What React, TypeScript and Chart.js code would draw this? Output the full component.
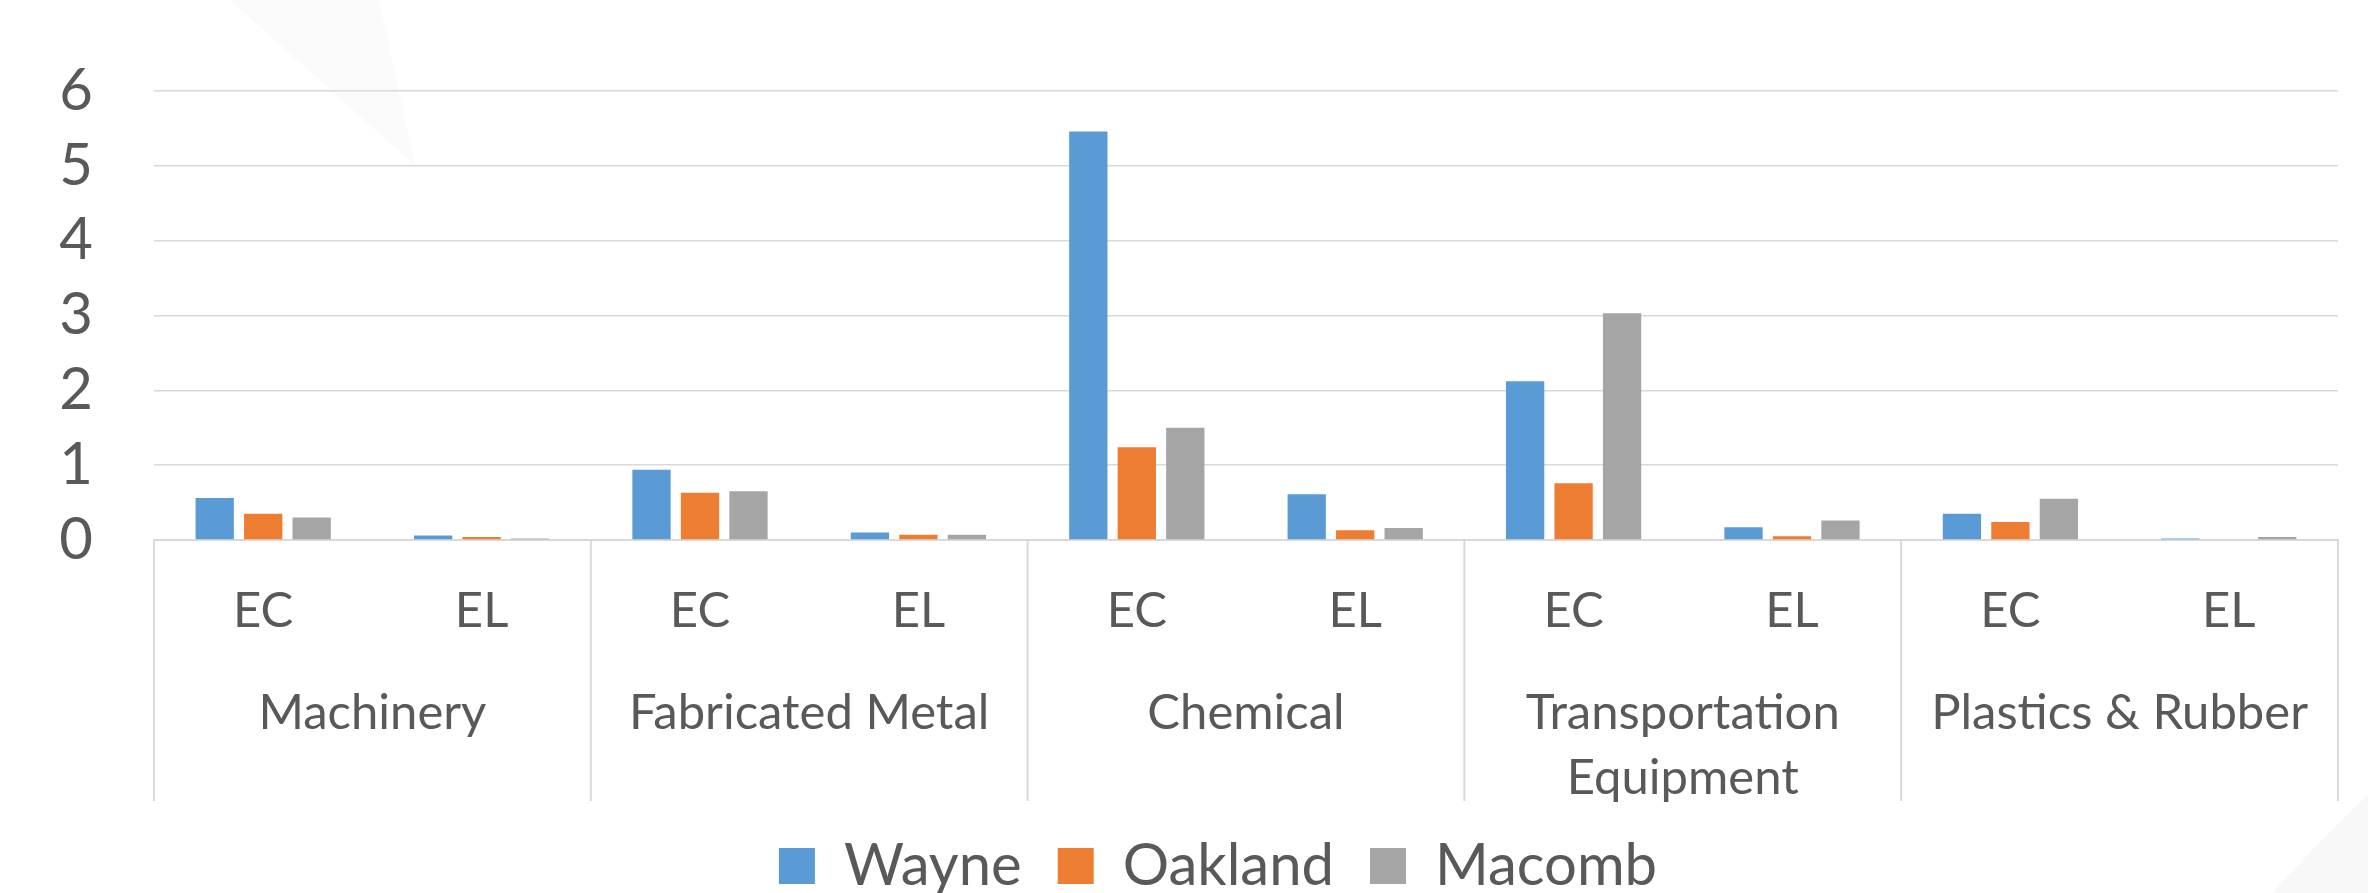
import React, { useEffect, useRef } from "react";
import { Chart, registerables } from "chart.js";

Chart.register(...registerables);

// ---- data ----
const tickLabels = ["EC", "EL", "EC", "EL", "EC", "EL", "EC", "EL", "EC", "EL"];
const groupLabels: (string | string[])[] = [
  "Machinery",
  "Fabricated Metal",
  "Chemical",
  ["Transportation", "Equipment"],
  "Plastics & Rubber",
];
const seriesNames = ["Wayne", "Oakland", "Macomb"];
const wayne = [0.56, 0.06, 0.94, 0.1, 5.46, 0.61, 2.12, 0.17, 0.35, 0.02];
const oakland = [0.35, 0.04, 0.63, 0.07, 1.24, 0.13, 0.76, 0.05, 0.24, 0.01];
const macomb = [0.3, 0.02, 0.65, 0.07, 1.5, 0.16, 3.03, 0.26, 0.55, 0.04];
const yMin = 0;
const yMax = 6;
const yStep = 1;

// ---- style ----
const FONT = "Lato";
const TEXT = "#595959";
const GRID = "#D9D9D9";
const COLORS = ["#5B9BD5", "#ED7D31", "#A5A5A5"];

const backgroundPlugin = {
  id: "bgShapes",
  beforeDraw(chart: any) {
    const { ctx, width, height } = chart;
    ctx.save();
    ctx.fillStyle = "#FFFFFF";
    ctx.fillRect(0, 0, width, height);
    ctx.fillStyle = "#FAFAFA";
    ctx.beginPath();
    ctx.moveTo(230, 0);
    ctx.lineTo(379, 0);
    ctx.lineTo(415, 165);
    ctx.closePath();
    ctx.fill();
    ctx.fillStyle = "#F8F8F8";
    ctx.beginPath();
    ctx.moveTo(2272, height);
    ctx.quadraticCurveTo(2330, 830, width, 795);
    ctx.lineTo(width, height);
    ctx.closePath();
    ctx.fill();
    ctx.restore();
  },
};

const groupPlugin = {
  id: "groupAxis",
  afterDraw(chart: any) {
    const x = chart.scales.x;
    const ctx = chart.ctx;
    const per = tickLabels.length / groupLabels.length;
    const bounds: number[] = [];
    ctx.save();
    ctx.strokeStyle = GRID;
    ctx.lineWidth = 2;
    for (let g = 0; g <= groupLabels.length; g++) {
      let px: number;
      if (g === 0) px = x.left;
      else if (g === groupLabels.length) px = x.right;
      else px = (x.getPixelForValue(g * per - 1) + x.getPixelForValue(g * per)) / 2;
      bounds.push(px);
      ctx.beginPath();
      ctx.moveTo(px, x.top);
      ctx.lineTo(px, x.bottom);
      ctx.stroke();
    }
    ctx.font = `49px ${FONT}`;
    ctx.fillStyle = TEXT;
    ctx.textAlign = "center";
    ctx.textBaseline = "middle";
    groupLabels.forEach((lab, g) => {
      const lines = Array.isArray(lab) ? lab : [lab];
      const cx = (bounds[g] + bounds[g + 1]) / 2;
      lines.forEach((t, i) => ctx.fillText(t, cx, x.top + 173 + i * 65));
    });
    ctx.restore();
  },
};

export default function App() {
  const ref = useRef<HTMLCanvasElement>(null);
  useEffect(() => {
    const series = [wayne, oakland, macomb];
    const chart = new Chart(ref.current as HTMLCanvasElement, {
      type: "bar",
      data: {
        labels: tickLabels,
        datasets: seriesNames.map((name, i) => ({
          label: name,
          data: series[i],
          backgroundColor: COLORS[i],
          borderWidth: 0,
          categoryPercentage: 0.666,
          barPercentage: 0.79,
        })),
      },
      options: {
        animation: false,
        responsive: false,
        devicePixelRatio: 1,
        layout: { padding: { left: 60, right: -8, top: 91, bottom: -12 } },
        scales: {
          x: {
            type: "category",
            offset: true,
            grid: { display: true, drawOnChartArea: false, drawTicks: false, color: "rgba(0,0,0,0)" },
            border: { display: true, color: GRID, width: 2 },
            ticks: {
              color: TEXT,
              font: { family: FONT, size: 49, lineHeight: 1.2 },
              padding: 42,
              maxRotation: 0,
              autoSkip: false,
            },
            afterFit: (s: any) => {
              s.height = 261;
            },
          },
          y: {
            type: "linear",
            position: "left",
            min: yMin,
            max: yMax,
            grid: { color: GRID, lineWidth: 1.5, drawTicks: false },
            border: { display: false },
            ticks: {
              stepSize: yStep,
              autoSkip: false,
              color: TEXT,
              font: { family: FONT, size: 58, lineHeight: 0.8 },
              padding: 61,
            },
            afterFit: (s: any) => {
              s.width = 94;
            },
          },
          yRightSpace: {
            type: "linear",
            position: "right",
            display: true,
            grid: { display: false, drawTicks: false },
            border: { display: false },
            ticks: { display: false },
            afterFit: (s: any) => {
              s.width = 38;
            },
          },
        },
        plugins: {
          legend: {
            position: "bottom",
            fullSize: true,
            labels: {
              boxWidth: 36,
              boxHeight: 36,
              color: TEXT,
              font: { family: FONT, size: 58, lineHeight: 0.6 },
              padding: 36,
            },
          },
          tooltip: { enabled: false },
          title: { display: false },
        },
      },
      plugins: [backgroundPlugin, groupPlugin],
    } as any);
    return () => chart.destroy();
  }, []);
  return (
    <div style={{ position: "absolute", left: 0, top: 0, width: 2368, height: 893, background: "#fff" }}>
      <canvas ref={ref} width={2368} height={893} style={{ display: "block", width: 2368, height: 893 }} />
    </div>
  );
}
